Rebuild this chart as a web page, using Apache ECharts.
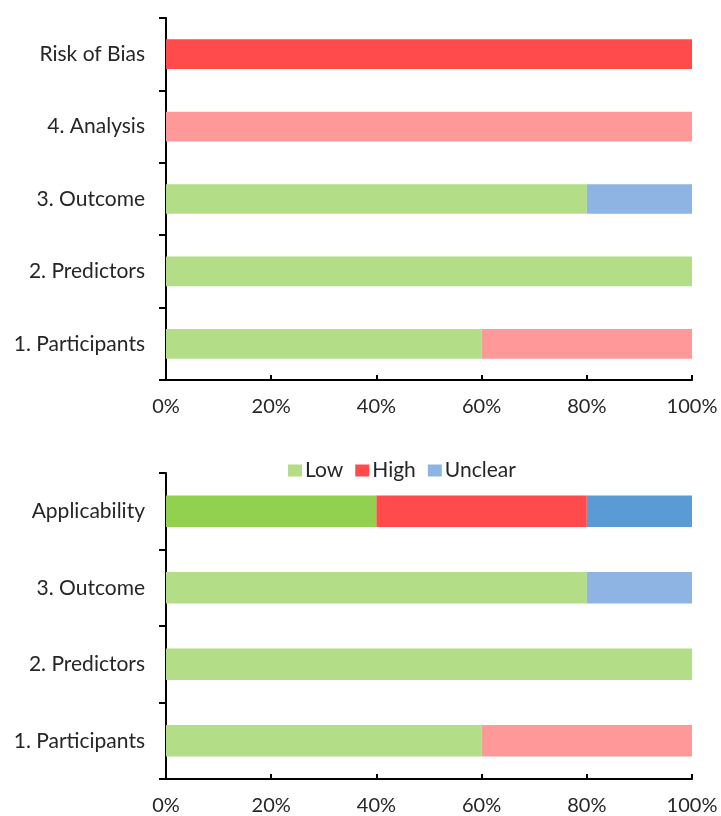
<!DOCTYPE html>
<html>
<head>
<meta charset="utf-8">
<script src="https://cdn.jsdelivr.net/npm/echarts@6/dist/echarts.min.js"></script>
<style>
html,body{margin:0;padding:0;background:#fff;}
#chart{width:721px;height:816px;}
</style>
</head>
<body>
<div id="chart"></div>
<script>
// Data (categories listed bottom to top)
const topCategories = ['1. Participants', '2. Predictors', '3. Outcome', '4. Analysis', 'Risk of Bias'];
const topLow = [60, 100, 80, 0, 0];
const topHigh = [40, 0, 0, 100, 100];
const topUnclear = [0, 0, 20, 0, 0];

const bottomCategories = ['1. Participants', '2. Predictors', '3. Outcome', 'Applicability'];
const bottomLow = [60, 100, 80, 40];
const bottomHigh = [40, 0, 0, 40];
const bottomUnclear = [0, 0, 20, 20];

const xTicks = [0, 20, 40, 60, 80, 100];
const seriesNames = ['Low', 'High', 'Unclear'];

// Styles
const legendColors = { Low: '#b3de87', High: '#ff4b4b', Unclear: '#8db4e2' };
const domainColors = { Low: '#b3de87', High: '#ff9999', Unclear: '#8db4e2' };
const overallColors = { Low: '#92d050', High: '#ff4b4b', Unclear: '#5b9bd5' };
const FONT = 'Lato, "Open Sans", sans-serif';
const textColor = '#262626';

function buildSeries(name, values, cats, axisIdx) {
  const pal = (i) => (i === cats.length - 1 ? overallColors : domainColors)[name];
  return {
    name: name,
    type: 'bar',
    stack: 'g' + axisIdx,
    xAxisIndex: axisIdx,
    yAxisIndex: axisIdx,
    barWidth: '41%',
    itemStyle: { color: legendColors[name] },
    data: values.map((v, i) => ({ value: v, itemStyle: { color: pal(i) } }))
  };
}

function xAxisDef(idx) {
  return {
    type: 'value', gridIndex: idx, min: xTicks[0], max: xTicks[xTicks.length - 1], interval: 20,
    axisLine: { show: true, lineStyle: { color: '#000', width: 2 } },
    axisTick: { show: true, inside: true, length: 5, lineStyle: { color: '#000', width: 2 } },
    splitLine: { show: false },
    axisLabel: { formatter: '{value}%', fontFamily: FONT, fontSize: 20, color: textColor, margin: 17 }
  };
}
function yAxisDef(idx, cats) {
  return {
    type: 'category', gridIndex: idx, data: cats, boundaryGap: true,
    axisLine: { show: true, lineStyle: { color: '#000', width: 2 } },
    axisTick: { show: true, length: 7, lineStyle: { color: '#000', width: 2 } },
    axisLabel: { fontFamily: FONT, fontSize: 21, color: textColor, margin: 21 }
  };
}

const chart = echarts.init(document.getElementById('chart'), null, { renderer: 'canvas' });
chart.setOption({
  animation: false,
  backgroundColor: '#fff',
  legend: {
    data: seriesNames, top: 455, left: 283,
    itemWidth: 14, itemHeight: 12, itemGap: 12, icon: 'rect',
    textStyle: { fontFamily: FONT, fontSize: 21, color: textColor, padding: [0, 0, 0, -2] }
  },
  grid: [
    { left: 166, right: 29, top: 18, height: 362 },
    { left: 166, right: 29, top: 473, height: 306 }
  ],
  xAxis: [xAxisDef(0), xAxisDef(1)],
  yAxis: [yAxisDef(0, topCategories), yAxisDef(1, bottomCategories)],
  series: [
    buildSeries('Low', topLow, topCategories, 0),
    buildSeries('High', topHigh, topCategories, 0),
    buildSeries('Unclear', topUnclear, topCategories, 0),
    buildSeries('Low', bottomLow, bottomCategories, 1),
    buildSeries('High', bottomHigh, bottomCategories, 1),
    buildSeries('Unclear', bottomUnclear, bottomCategories, 1)
  ]
});
</script>
</body>
</html>
